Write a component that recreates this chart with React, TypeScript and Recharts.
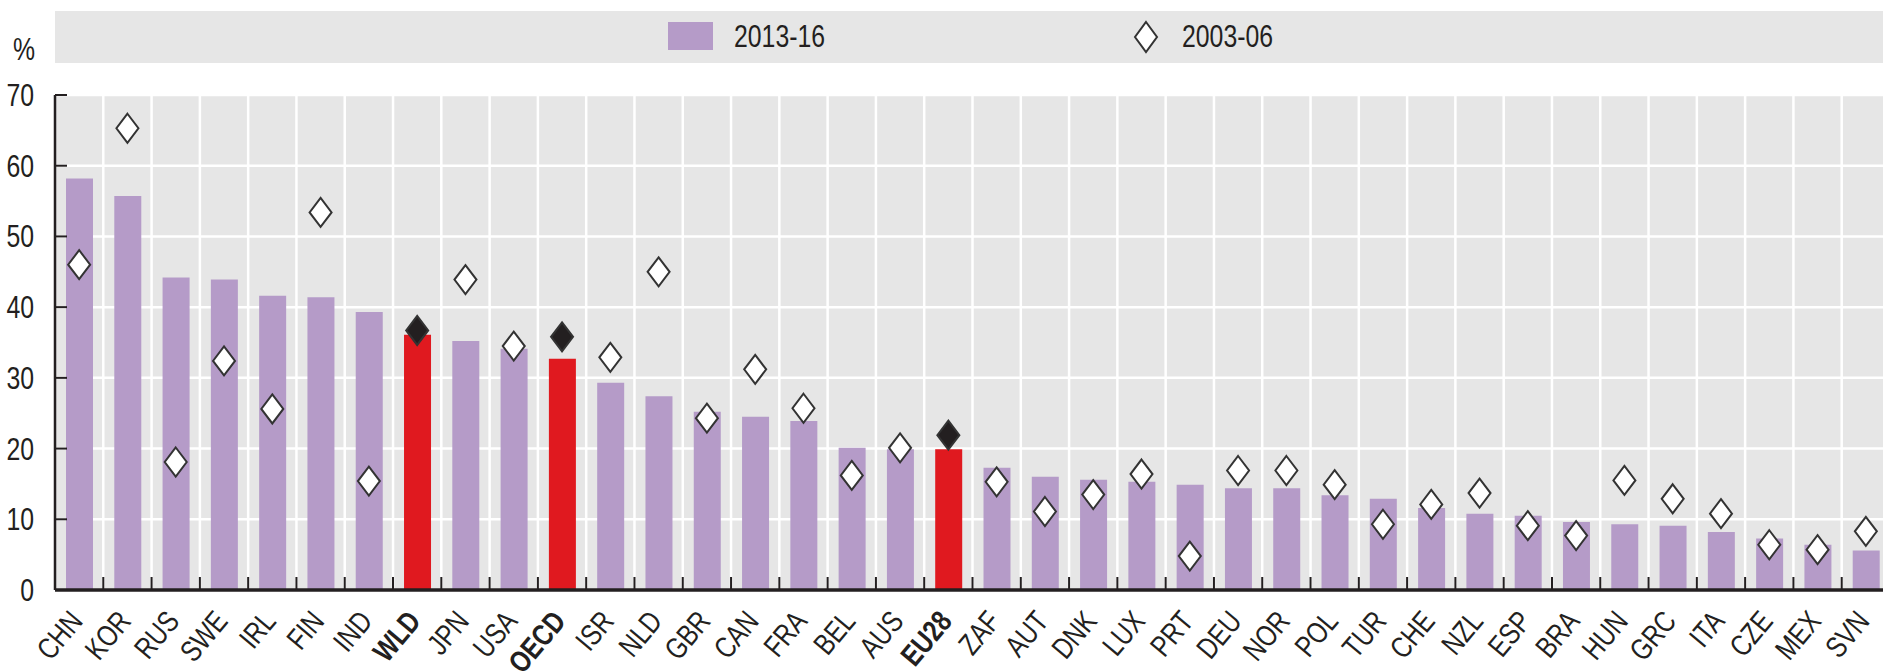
import { ComposedChart, Bar, Scatter, XAxis, YAxis, CartesianGrid, Cell } from "recharts";

const countries = [
  "CHN", "KOR", "RUS", "SWE", "IRL", "FIN", "IND", "WLD", "JPN", "USA",
  "OECD", "ISR", "NLD", "GBR", "CAN", "FRA", "BEL", "AUS", "EU28", "ZAF",
  "AUT", "DNK", "LUX", "PRT", "DEU", "NOR", "POL", "TUR", "CHE", "NZL",
  "ESP", "BRA", "HUN", "GRC", "ITA", "CZE", "MEX", "SVN",
];

// 2013-16 (bars)
const share2013 = [
  58.2, 55.7, 44.2, 43.9, 41.6, 41.4, 39.3, 36.1, 35.2, 34.1,
  32.7, 29.3, 27.4, 25.2, 24.5, 23.9, 20.1, 19.9, 19.9, 17.3,
  16.0, 15.6, 15.3, 14.9, 14.4, 14.4, 13.4, 12.9, 11.6, 10.8,
  10.5, 9.6, 9.3, 9.1, 8.2, 7.3, 6.4, 5.6,
];

// 2003-06 (diamonds)
const share2003 = [
  46.0, 65.3, 18.1, 32.4, 25.6, 53.4, 15.4, 36.7, 43.9, 34.5,
  35.8, 32.9, 45.0, 24.3, 31.2, 25.7, 16.2, 20.1, 21.9, 15.3,
  11.1, 13.5, 16.4, 4.8, 16.9, 16.9, 14.9, 9.3, 12.1, 13.7,
  9.1, 7.7, 15.5, 12.9, 10.8, 6.4, 5.7, 8.3,
];

const aggregates = ["WLD", "OECD", "EU28"];
const yTicks = [0, 10, 20, 30, 40, 50, 60, 70];

const data = countries.map((c, i) => ({
  name: c,
  recent: share2013[i],
  past: share2003[i],
  agg: aggregates.includes(c),
}));

const W = 1883;
const H = 671;
const LEFT = 55;
const RIGHT = -7;
const STEP = (W - LEFT - RIGHT) / countries.length;
// no narrow font installed: squeeze Liberation Sans horizontally instead
const FONT = "'Liberation Sans', Arial, sans-serif";
const SQUEEZE = 0.8;
const INK = "#231f20";
const PURPLE = "#b59bc8";
const RED = "#e0191f";
const PANEL = "#e6e6e6";

function Diamond(props: any) {
  const { cx, cy, payload } = props;
  if (cx == null || cy == null) return null;
  const w = 11;
  const h = 14.5;
  return (
    <path
      d={`M${cx},${cy - h}L${cx + w},${cy}L${cx},${cy + h}L${cx - w},${cy}Z`}
      fill={payload && payload.agg ? INK : "#ffffff"}
      stroke="#333333"
      strokeWidth={2}
    />
  );
}

function XTick({ x, y, payload, index }: any) {
  const bold = aggregates.includes(payload.value);
  const tx = x + 5;
  const ty = y + 32;
  return (
    <g>
      {index > 0 && (
        <line x1={x - STEP / 2} x2={x - STEP / 2} y1={y} y2={y - 13} stroke={INK} strokeWidth={2} />
      )}
      <text
        x={0}
        y={0}
        transform={`translate(${tx} ${ty}) rotate(-50) scale(${SQUEEZE} 1)`}
        textAnchor="end"
        fontSize={30}
        fontFamily={FONT}
        fontWeight={bold ? 700 : 400}
        fill={INK}
      >
        {payload.value}
      </text>
    </g>
  );
}

function YTick({ x, y, payload }: any) {
  return (
    <g>
      {payload.value > 0 && <line x1={x} x2={x + 12} y1={y} y2={y} stroke={INK} strokeWidth={2} />}
      <text
        x={0}
        y={0}
        dy={11}
        transform={`translate(${x - 21} ${y}) scale(${SQUEEZE} 1)`}
        textAnchor="end"
        fontSize={31}
        fontFamily={FONT}
        fill={INK}
      >
        {payload.value}
      </text>
    </g>
  );
}

const narrowText = {
  position: "absolute" as const,
  fontSize: 31,
  lineHeight: "30px",
  transform: `scaleX(${SQUEEZE})`,
  transformOrigin: "left center",
  whiteSpace: "nowrap" as const,
};

export default function App() {
  return (
    <div style={{ position: "relative", width: W, height: H, overflow: "hidden", fontFamily: FONT, color: INK }}>
      <style>{`body{margin:0}`}</style>

      <div style={{ ...narrowText, left: 13, top: 35 }}>%</div>

      <div style={{ position: "absolute", left: LEFT, top: 11, width: W - LEFT, height: 52, background: PANEL }}>
        <div style={{ position: "absolute", left: 613, top: 11, width: 45, height: 28, background: PURPLE }} />
        <div style={{ ...narrowText, left: 679, top: 11 }}>2013-16</div>
        <svg style={{ position: "absolute", left: 1078, top: 9 }} width={26} height={34}>
          <path d="M13,2L24,17L13,32L2,17Z" fill="#ffffff" stroke="#333333" strokeWidth={2} />
        </svg>
        <div style={{ ...narrowText, left: 1127, top: 11 }}>2003-06</div>
      </div>

      <ComposedChart
        width={W}
        height={H}
        data={data}
        margin={{ top: 95, right: RIGHT, left: 0, bottom: 1 }}
        barSize={27}
      >
        <CartesianGrid
          fill={PANEL}
          stroke="#ffffff"
          strokeWidth={2.5}
          verticalCoordinatesGenerator={({ offset }: any) =>
            countries.slice(1).map((_, i) => offset.left + ((i + 1) * offset.width) / countries.length)
          }
        />
        <XAxis
          dataKey="name"
          interval={0}
          height={80}
          tickSize={0}
          tickMargin={0}
          tickLine={false}
          axisLine={{ stroke: INK, strokeWidth: 3.5 }}
          tick={<XTick />}
        />
        <YAxis
          width={LEFT}
          domain={[0, 70]}
          ticks={yTicks}
          interval={0}
          tickSize={0}
          tickMargin={0}
          tickLine={false}
          axisLine={{ stroke: INK, strokeWidth: 2.5 }}
          tick={<YTick />}
        />
        <Bar dataKey="recent" isAnimationActive={false}>
          {data.map((d) => (
            <Cell key={d.name} fill={d.agg ? RED : PURPLE} />
          ))}
        </Bar>
        <Scatter dataKey="past" shape={<Diamond />} isAnimationActive={false} />
      </ComposedChart>
    </div>
  );
}
